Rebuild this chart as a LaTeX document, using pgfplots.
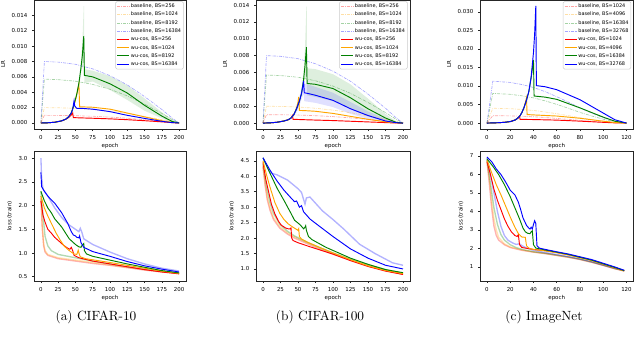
\documentclass[border=0pt]{standalone}
\usepackage{pgfplots}
\usepackage{pgfplotstable}
\pgfplotsset{compat=1.18}
\usepackage{fontspec}
\newfontfamily\dv{DejaVu Sans}
\definecolor{mgreen}{RGB}{0,128,0}
\definecolor{morange}{RGB}{255,165,0}
\definecolor{mred}{RGB}{255,0,0}
\definecolor{mblue}{RGB}{0,0,255}

\pgfplotsset{
  base/.style={
    scale only axis, anchor=north west,
    axis line style={black!85, line width=0.5pt},
    tick align=outside, tick pos=left,
    major tick length=1.5pt,
    every tick/.style={black!85, line width=0.4pt},
    tick label style={font=\dv\fontsize{4.1}{4.8}\selectfont},
    label style={font=\dv\fontsize{4.1}{4.8}\selectfont},
    /pgf/number format/assume math mode=true,
    xlabel={epoch},
    xlabel style={yshift=4pt},
    ylabel style={yshift=-2pt},
    legend cell align=left,
    legend style={font=\dv\fontsize{3.7}{4.3}\selectfont, draw=black!20, rounded corners=1pt,
      fill=white, fill opacity=0.8, text opacity=1, inner sep=1pt, row sep=1pt,
      nodes={inner sep=0.8pt, text height=2.8pt, text depth=0.8pt},
      at={(0.985,0.99)}, anchor=north east},
    legend image code/.code={\draw[##1] (0pt,0pt) -- (9pt,0pt);},
  },
  lrax/.style={base, ylabel={LR}, scaled y ticks=false,
    yticklabel style={/pgf/number format/.cd, fixed, fixed zerofill, precision=3}},
  lossax/.style={base, ylabel={loss (train)}},
  bl/.style={color=#1, opacity=0.35, line width=0.5pt, mark=none, dash pattern=on 2.2pt off 0.8pt on 0.5pt off 0.8pt},
  wu/.style={color=#1, line width=0.7pt, mark=none},
  bll/.style={color=#1, opacity=0.3, line width=1.0pt, mark=none},
}

\pgfplotstableread{
t r o g b
0 0 0 0 0
5 0.001 0.002 0.0057 0.008
25 0.00099 0.00198 0.00564 0.00792
50 0.000955 0.00191 0.00544 0.00764
75 0.00088 0.00176 0.00502 0.00704
100 0.00077 0.00154 0.00439 0.00616
125 0.00062 0.00124 0.00353 0.00496
150 0.00043 0.00086 0.00245 0.00344
175 0.00022 0.00044 0.00125 0.00176
190 0.00008 0.00016 0.00046 0.00064
200 0 0 0 0
}\cifarbase

\pgfplotstableread{
t r o g b
0 0 0 0 0
5 0.002 0.004 0.008 0.0113
20 0.00194 0.00388 0.00776 0.01096
30 0.00184 0.00368 0.00736 0.0104
40 0.0017 0.0034 0.0068 0.0096
50 0.0015 0.003 0.006 0.00848
60 0.00126 0.00252 0.00504 0.00712
70 0.001 0.002 0.004 0.00565
80 0.00072 0.00144 0.00288 0.00407
90 0.00048 0.00096 0.00192 0.00271
100 0.00026 0.00052 0.00104 0.00147
110 0.00009 0.00018 0.00036 0.00051
120 0 0 0 0
}\imnetbase

\begin{document}
\begin{tikzpicture}
\useasboundingbox (0pt,0pt) rectangle (480pt,-257.25pt);

% ---------- (a) LR ----------
\begin{axis}[lrax, at={(25.5pt,0pt)}, width=114pt, height=96.75pt,
  xmin=-10, xmax=210, ymin=-0.00078, ymax=0.016,
  xtick={0,25,50,75,100,125,150,175,200},
  ytick={0,0.002,0.004,0.006,0.008,0.010,0.012,0.014}]
\addplot[fill=mgreen, fill opacity=0.13, draw=none, forget plot] coordinates {
(56,0.0055)(58,0.0078)(60,0.0105)(62,0.0152)(62.5,0.0152)(63,0.007)(75,0.0068)(100,0.0061)(125,0.0049)(150,0.0032)(175,0.0014)(190,0.0004)(200,0)
(190,0.0001)(175,0.0006)(150,0.0016)(125,0.003)(100,0.0043)(75,0.0054)(63,0.0052)(62.5,0.0075)(62,0.0075)(60,0.0072)(58,0.0066)(56,0.005)} -- cycle;
\addplot[bl=mred] table[x=t,y=r]{\cifarbase};
\addplot[bl=morange] table[x=t,y=o]{\cifarbase};
\addplot[bl=mgreen] table[x=t,y=g]{\cifarbase};
\addplot[bl=mblue] table[x=t,y=b]{\cifarbase};
\addplot[wu=mred] coordinates {(0,0)(10,0.00003)(20,0.0001)(30,0.00028)(36,0.0005)(40,0.0007)(43,0.00095)(46,0.0013)(47,0.0007)(60,0.00066)(75,0.00062)(100,0.00054)(125,0.00043)(150,0.0003)(175,0.00015)(190,0.00005)(200,0)};
\addplot[wu=morange] coordinates {(0,0)(10,0.00003)(20,0.0001)(30,0.00028)(36,0.0005)(40,0.0008)(44,0.0013)(48,0.0024)(51,0.0033)(53,0.0042)(55,0.0051)(56,0.0021)(60,0.0021)(75,0.00205)(100,0.0018)(125,0.0013)(150,0.0008)(175,0.0003)(190,0.00007)(200,0)};
\addplot[wu=mgreen] coordinates {(0,0)(10,0.00003)(20,0.0001)(30,0.00028)(36,0.0005)(40,0.0008)(44,0.0013)(48,0.0024)(52,0.0038)(55,0.0052)(58,0.0072)(60,0.0088)(62,0.0113)(63,0.0062)(75,0.006)(100,0.0051)(125,0.0039)(150,0.0023)(175,0.0009)(190,0.0002)(200,0)};
\addplot[wu=mblue] coordinates {(0,0)(10,0.00003)(20,0.0001)(30,0.00028)(36,0.0005)(40,0.0008)(44,0.0013)(46,0.0018)(48,0.0029)(49,0.0022)(52,0.0019)(60,0.0019)(75,0.0018)(100,0.00148)(125,0.001)(150,0.0006)(175,0.00022)(190,0.00005)(200,0)};
\legend{baseline{,} BS=256, baseline{,} BS=1024, baseline{,} BS=8192, baseline{,} BS=16384, wu-cos{,} BS=256, wu-cos{,} BS=1024, wu-cos{,} BS=8192, wu-cos{,} BS=16384}
\end{axis}

% ---------- (b) LR ----------
\begin{axis}[lrax, at={(192pt,0pt)}, width=115.5pt, height=96.75pt,
  xmin=-10, xmax=210, ymin=-0.0007, ymax=0.0146,
  xtick={0,25,50,75,100,125,150,175,200},
  ytick={0,0.002,0.004,0.006,0.008,0.010,0.012,0.014}]
\addplot[fill=mgreen, fill opacity=0.13, draw=none, forget plot] coordinates {
(58,0.006)(60,0.009)(62,0.0138)(62.5,0.0138)(63,0.0065)(75,0.0064)(100,0.0058)(125,0.0046)(150,0.0029)(175,0.0011)(190,0.0002)(200,0)
(190,0.00003)(175,0.0002)(150,0.0008)(125,0.0017)(100,0.0026)(75,0.0031)(63,0.0033)(62.5,0.0055)(62,0.0055)(60,0.0052)(58,0.0045)} -- cycle;
\addplot[fill=mblue, fill opacity=0.12, draw=none, forget plot] coordinates {
(45,0.0014)(50,0.0025)(55,0.0041)(58,0.0055)(59,0.0047)(75,0.0043)(100,0.0036)(125,0.0025)(150,0.0014)(175,0.0005)(190,0.0001)(200,0)
(190,0.00002)(175,0.0001)(150,0.0005)(125,0.0011)(100,0.0019)(75,0.0024)(59,0.0026)(58,0.0035)(55,0.0028)(50,0.0016)(45,0.0009)} -- cycle;
\addplot[bl=mred] table[x=t,y=r]{\cifarbase};
\addplot[bl=morange] table[x=t,y=o]{\cifarbase};
\addplot[bl=mgreen] table[x=t,y=g]{\cifarbase};
\addplot[bl=mblue] table[x=t,y=b]{\cifarbase};
\addplot[wu=mred] coordinates {(0,0)(10,0.00003)(20,0.0001)(30,0.00025)(36,0.0004)(40,0.0006)(42,0.0009)(43,0.00045)(60,0.0004)(75,0.00036)(100,0.0003)(125,0.00022)(150,0.00014)(175,0.00006)(190,0.00001)(200,0)};
\addplot[wu=morange] coordinates {(0,0)(10,0.00003)(20,0.0001)(30,0.00025)(36,0.0004)(40,0.0006)(44,0.001)(48,0.0018)(50,0.0025)(51,0.0031)(52,0.0015)(60,0.00148)(75,0.0014)(100,0.00115)(125,0.0008)(150,0.00045)(175,0.00015)(190,0.00003)(200,0)};
\addplot[wu=mgreen] coordinates {(0,0)(10,0.00003)(20,0.0001)(30,0.00025)(36,0.0004)(40,0.0006)(44,0.001)(48,0.0017)(52,0.0026)(55,0.0035)(58,0.0052)(60,0.0068)(62,0.009)(63,0.0047)(75,0.0046)(100,0.0041)(125,0.003)(150,0.0017)(175,0.0006)(190,0.0001)(200,0)};
\addplot[wu=mblue] coordinates {(0,0)(10,0.00003)(20,0.0001)(30,0.00025)(36,0.0004)(40,0.0006)(44,0.001)(48,0.0017)(52,0.0026)(55,0.0035)(57,0.0044)(58,0.005)(59,0.0036)(65,0.0035)(75,0.0033)(100,0.0027)(125,0.0017)(150,0.0009)(175,0.00025)(190,0.00005)(200,0)};
\legend{baseline{,} BS=256, baseline{,} BS=1024, baseline{,} BS=8192, baseline{,} BS=16384, wu-cos{,} BS=256, wu-cos{,} BS=1024, wu-cos{,} BS=8192, wu-cos{,} BS=16384}
\end{axis}

% ---------- (c) LR ----------
\begin{axis}[lrax, at={(360pt,0pt)}, width=115.1pt, height=96.75pt,
  xmin=-6, xmax=126, ymin=-0.0016, ymax=0.0332,
  xtick={0,20,40,60,80,100,120},
  ytick={0,0.005,0.010,0.015,0.020,0.025,0.030}]
\addplot[bl=mred] table[x=t,y=r]{\imnetbase};
\addplot[bl=morange] table[x=t,y=o]{\imnetbase};
\addplot[bl=mgreen] table[x=t,y=g]{\imnetbase};
\addplot[bl=mblue] table[x=t,y=b]{\imnetbase};
\addplot[wu=mred] coordinates {(0,0)(10,0.0001)(15,0.0002)(20,0.0004)(24,0.0008)(26,0.0012)(28,0.0018)(28.5,0.001)(40,0.00095)(60,0.0008)(80,0.00052)(100,0.0002)(110,0.00006)(120,0)};
\addplot[wu=morange] coordinates {(0,0)(10,0.0001)(15,0.0002)(20,0.0004)(24,0.0008)(26,0.0012)(28,0.0018)(30,0.0028)(32,0.0043)(34,0.0068)(34.5,0.0023)(40,0.0022)(60,0.0019)(80,0.0013)(100,0.0005)(110,0.00015)(120,0)};
\addplot[wu=mgreen] coordinates {(0,0)(10,0.0001)(15,0.0002)(20,0.0004)(24,0.0008)(26,0.0012)(28,0.0018)(30,0.0028)(32,0.0043)(34,0.0062)(36,0.0085)(38,0.0122)(40,0.017)(40.5,0.0073)(50,0.007)(60,0.0064)(80,0.0041)(100,0.0016)(110,0.0005)(120,0)};
\addplot[wu=mblue] coordinates {(0,0)(10,0.0001)(15,0.0002)(20,0.0004)(24,0.0008)(26,0.0012)(28,0.0018)(30,0.0028)(32,0.0043)(34,0.0062)(36,0.0085)(38,0.0125)(40,0.019)(41,0.024)(42,0.0316)(42.5,0.0101)(50,0.0098)(60,0.009)(80,0.0063)(100,0.0027)(110,0.0009)(120,0)};
\legend{baseline{,} BS=1024, baseline{,} BS=4096, baseline{,} BS=16384, baseline{,} BS=32768, wu-cos{,} BS=1024, wu-cos{,} BS=4096, wu-cos{,} BS=16384, wu-cos{,} BS=32768}
\end{axis}

% ---------- (a) loss ----------
\begin{axis}[lossax, at={(25.5pt,-113.25pt)}, width=114pt, height=97.5pt,
  xmin=-10, xmax=210, ymin=0.41, ymax=3.15,
  xtick={0,25,50,75,100,125,150,175,200},
  ytick={0.5,1.0,1.5,2.0,2.5,3.0},
  yticklabel style={/pgf/number format/.cd, fixed, fixed zerofill, precision=1}]
\addplot[bll=mred] coordinates {(0,2.15)(2,1.5)(4,1.15)(6,1.02)(10,0.95)(25,0.88)(50,0.83)(75,0.78)(100,0.74)(125,0.69)(150,0.64)(175,0.6)(200,0.57)};
\addplot[bll=morange] coordinates {(0,2.2)(2,1.6)(4,1.2)(6,1.05)(10,0.97)(25,0.9)(50,0.85)(75,0.8)(100,0.75)(125,0.7)(150,0.65)(175,0.61)(200,0.58)};
\addplot[bll=mgreen] coordinates {(0,2.3)(3,1.8)(6,1.35)(10,1.15)(15,1.05)(25,0.97)(50,0.9)(75,0.83)(100,0.77)(125,0.71)(150,0.66)(175,0.61)(200,0.58)};
\addplot[bll=mblue] coordinates {(0,3.0)(1,2.6)(3,2.35)(10,2.2)(20,1.95)(30,1.75)(40,1.6)(50,1.5)(55,1.45)(57,1.52)(59,1.45)(62,1.3)(75,1.18)(100,1.02)(125,0.88)(150,0.77)(175,0.68)(200,0.62)};
\addplot[wu=mred] coordinates {(0,2.1)(3,1.8)(6,1.65)(10,1.5)(15,1.42)(20,1.33)(27,1.24)(33,1.16)(39,1.1)(42,1.08)(44,1.12)(46,1.05)(48,0.95)(55,0.9)(75,0.83)(100,0.77)(125,0.71)(150,0.65)(175,0.6)(200,0.56)};
\addplot[wu=morange] coordinates {(0,2.2)(5,1.95)(10,1.78)(16,1.6)(22,1.42)(28,1.27)(34,1.14)(41,1.05)(48,0.98)(52,0.97)(54,1.06)(55,1.0)(57,0.92)(65,0.88)(100,0.8)(125,0.74)(150,0.68)(175,0.62)(200,0.57)};
\addplot[wu=mgreen] coordinates {(0,2.3)(5,2.1)(10,1.95)(15,1.85)(20,1.72)(30,1.55)(41,1.3)(50,1.18)(55,1.13)(58,1.12)(60,1.17)(62,1.2)(63,1.05)(66,0.98)(75,0.93)(100,0.85)(125,0.77)(150,0.7)(175,0.63)(200,0.58)};
\addplot[wu=mblue] coordinates {(0,2.7)(1,2.4)(5,2.3)(10,2.2)(15,2.12)(20,2.05)(30,1.85)(39,1.62)(44,1.45)(47,1.38)(50,1.36)(52,1.33)(55,1.32)(56,1.36)(58,1.22)(62,1.12)(75,1.03)(100,0.93)(125,0.82)(150,0.73)(175,0.66)(200,0.6)};
\end{axis}

% ---------- (b) loss ----------
\begin{axis}[lossax, at={(192pt,-113.25pt)}, width=115.5pt, height=97.5pt,
  xmin=-10, xmax=210, ymin=0.61, ymax=4.82,
  xtick={0,25,50,75,100,125,150,175,200},
  ytick={1.0,1.5,2.0,2.5,3.0,3.5,4.0,4.5},
  yticklabel style={/pgf/number format/.cd, fixed, fixed zerofill, precision=1}]
\addplot[bll=mred] coordinates {(0,4.3)(3,3.7)(6,3.25)(10,2.9)(15,2.6)(24,2.32)(35,2.13)(45,2.0)(60,1.85)(80,1.65)(100,1.48)(125,1.28)(150,1.1)(175,0.95)(200,0.83)};
\addplot[bll=morange] coordinates {(0,4.35)(3,3.8)(6,3.35)(10,2.98)(15,2.66)(24,2.37)(35,2.17)(45,2.04)(60,1.88)(80,1.68)(100,1.5)(125,1.3)(150,1.12)(175,0.97)(200,0.85)};
\addplot[bll=mgreen] coordinates {(0,4.4)(3,3.95)(6,3.55)(10,3.15)(15,2.8)(24,2.45)(35,2.22)(45,2.07)(60,1.9)(80,1.7)(100,1.52)(125,1.32)(150,1.14)(175,0.98)(200,0.86)};
\addplot[bll=mblue] coordinates {(0,4.6)(5,4.35)(10,4.12)(15,4.08)(20,4.05)(35,3.88)(50,3.6)(55,3.48)(58,3.25)(60,3.1)(62,3.3)(67,3.33)(85,2.88)(100,2.6)(115,2.3)(138,1.8)(160,1.5)(185,1.2)(200,1.12)};
\addplot[wu=mred] coordinates {(0,4.45)(4,3.9)(8,3.5)(12,3.1)(17,2.78)(22,2.55)(26,2.42)(32,2.33)(36,2.3)(39,2.3)(40,2.33)(41,2.0)(43,1.92)(50,1.85)(67,1.72)(100,1.48)(125,1.27)(150,1.08)(175,0.93)(200,0.82)};
\addplot[wu=morange] coordinates {(0,4.5)(5,4.05)(10,3.65)(17,3.15)(24,2.8)(30,2.6)(36,2.46)(43,2.35)(48,2.28)(50,2.25)(51,2.3)(52,2.05)(55,1.97)(65,1.85)(100,1.52)(125,1.3)(150,1.1)(175,0.95)(200,0.85)};
\addplot[wu=mgreen] coordinates {(0,4.6)(10,4.1)(20,3.62)(30,3.22)(40,2.8)(45,2.58)(52,2.45)(55,2.38)(58,2.3)(60,2.35)(61,2.4)(62,2.25)(65,2.05)(70,1.95)(90,1.7)(100,1.6)(125,1.35)(150,1.15)(175,0.98)(200,0.88)};
\addplot[wu=mblue] coordinates {(0,4.6)(10,4.2)(20,3.85)(30,3.55)(40,3.3)(45,3.18)(48,3.2)(50,3.1)(52,3.0)(55,3.05)(58,2.85)(62,2.75)(67,2.62)(75,2.48)(100,2.05)(125,1.65)(150,1.35)(175,1.12)(200,1.0)};
\end{axis}

% ---------- (c) loss ----------
\begin{axis}[lossax, at={(360pt,-113.25pt)}, width=115.1pt, height=97.5pt,
  xmin=-6, xmax=126, ymin=0.24, ymax=7.27,
  xtick={0,20,40,60,80,100,120},
  ytick={1,2,3,4,5,6,7}]
\addplot[bll=mred] coordinates {(0,6.7)(2,5.5)(4,4.2)(6,3.2)(8,2.7)(10,2.45)(15,2.2)(20,2.05)(30,1.9)(40,1.8)(50,1.72)(60,1.62)(70,1.52)(80,1.4)(90,1.25)(100,1.08)(110,0.9)(118,0.78)};
\addplot[bll=morange] coordinates {(0,6.75)(2,5.8)(4,4.6)(6,3.6)(8,3.0)(10,2.6)(15,2.25)(20,2.08)(30,1.92)(40,1.81)(50,1.73)(60,1.63)(70,1.53)(80,1.41)(90,1.26)(100,1.09)(110,0.91)(118,0.79)};
\addplot[bll=mgreen] coordinates {(0,6.8)(3,5.5)(6,4.2)(9,3.3)(12,2.75)(15,2.45)(20,2.2)(25,2.05)(30,1.95)(40,1.82)(50,1.74)(60,1.64)(70,1.54)(80,1.42)(90,1.27)(100,1.1)(110,0.92)(118,0.8)};
\addplot[bll=mblue] coordinates {(0,6.9)(3,6.0)(6,5.0)(9,4.0)(12,3.2)(15,2.7)(18,2.45)(22,2.3)(25,2.22)(28,2.25)(30,2.15)(35,2.0)(40,1.9)(50,1.78)(60,1.67)(70,1.56)(80,1.43)(90,1.28)(100,1.1)(110,0.92)(118,0.8)};
\addplot[wu=mred] coordinates {(0,6.7)(3,6.0)(6,5.2)(9,4.6)(12,4.1)(15,3.6)(18,3.2)(21,2.9)(24,2.7)(26,2.65)(27,2.75)(28,2.2)(30,2.05)(40,1.95)(50,1.88)(60,1.78)(70,1.66)(80,1.52)(90,1.36)(100,1.16)(110,0.96)(118,0.8)};
\addplot[wu=morange] coordinates {(0,6.8)(4,6.1)(8,5.45)(12,4.9)(16,4.3)(20,3.7)(24,3.15)(27,2.8)(30,2.62)(33,2.6)(34,2.15)(36,2.02)(40,1.94)(50,1.87)(60,1.77)(70,1.65)(80,1.5)(90,1.35)(100,1.15)(110,0.95)(118,0.78)};
\addplot[wu=mgreen] coordinates {(0,6.85)(5,6.45)(10,6.0)(15,5.45)(20,4.8)(24,4.2)(28,3.6)(31,3.1)(33,2.9)(35,2.82)(37,2.8)(38,2.9)(39,2.95)(40,2.2)(42,2.02)(50,1.92)(60,1.8)(70,1.68)(80,1.52)(90,1.37)(100,1.17)(110,0.97)(118,0.8)};
\addplot[wu=mblue] coordinates {(0,6.95)(4,6.7)(8,6.3)(12,6.0)(16,5.6)(20,5.15)(24,4.9)(27,4.5)(29,4.1)(31,3.65)(34,3.25)(36,3.1)(37,3.05)(38,3.15)(39,3.05)(40,3.3)(41,3.5)(42,3.35)(43,2.15)(45,2.02)(50,1.95)(60,1.82)(70,1.7)(80,1.55)(90,1.4)(100,1.2)(110,1.0)(118,0.82)};
\end{axis}

\node at (72pt,-237.75pt) {(a) CIFAR-10};
\node at (240pt,-237.75pt) {(b) CIFAR-100};
\node at (408pt,-237.75pt) {(c) ImageNet};
\end{tikzpicture}
\end{document}
